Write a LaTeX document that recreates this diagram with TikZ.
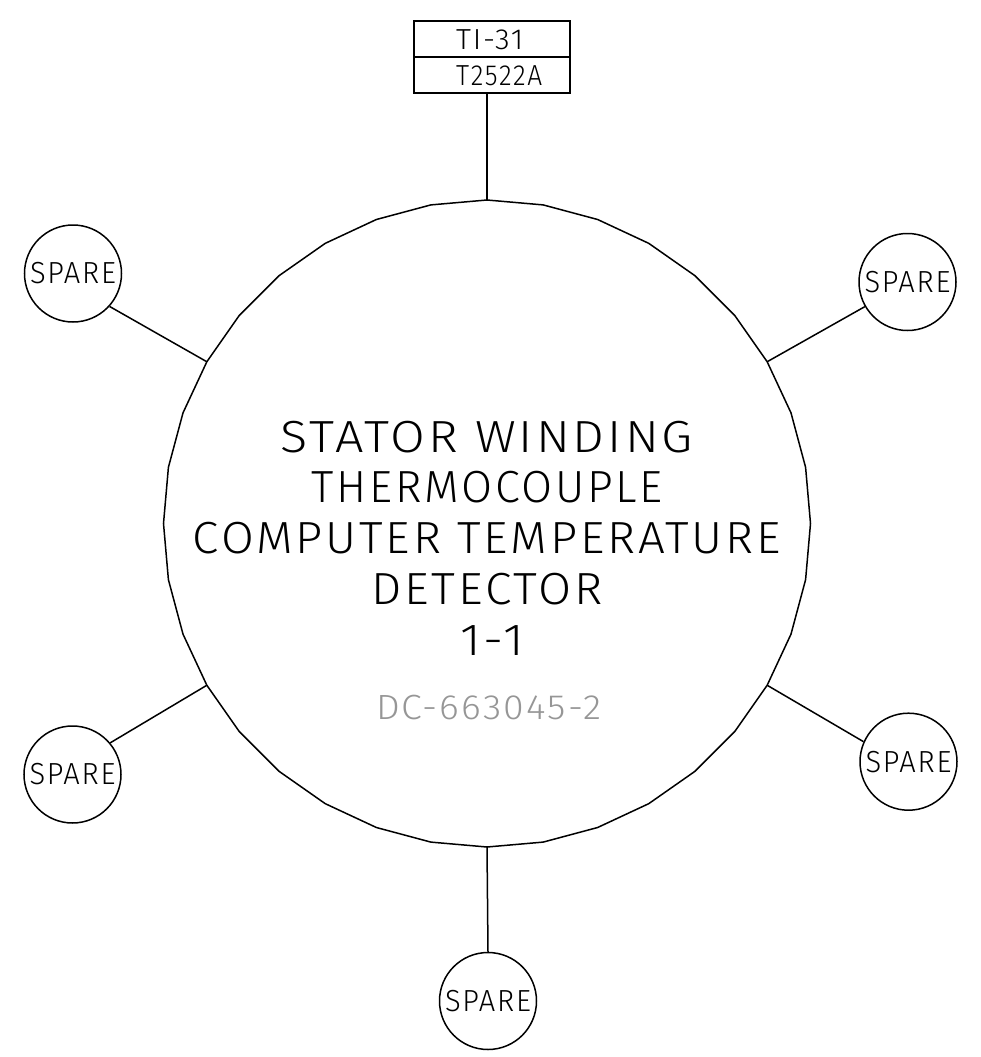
\documentclass[tikz,border=0pt]{standalone}
\usepackage{fontspec}
\usepackage{graphicx}
\newfontfamily\cadfont{Fira Sans Light}[LetterSpace=6]
\newcommand\fitto[2]{\resizebox{#1}{\height}{#2}}
\definecolor{dcgray}{RGB}{150,150,150}
\tikzset{
  lw/.style={line width=1.5pt},
  spare/.style={draw, circle, lw, minimum size=97pt, inner sep=0pt,
    font=\cadfont\fontsize{30.5}{30.5}\selectfont},
  titleline/.style={anchor=base, inner sep=0pt, font=\cadfont\fontsize{45}{45}\selectfont},
  dcline/.style={anchor=base, inner sep=0pt, text=dcgray, font=\cadfont\fontsize{35}{35}\selectfont},
  tagbox/.style={draw, lw, rectangle, minimum width=156pt, minimum height=36pt, inner sep=0pt},
  tagtext/.style={anchor=base west, inner sep=0pt, font=\cadfont\fontsize{29}{29}\selectfont},
}
\begin{document}
\begin{tikzpicture}[x=1pt, y=-1pt]
\useasboundingbox (0,0) rectangle (980,1057);
% big polygonal circle
\draw[lw] ({487+323.5},523.5) \foreach \a in {10,20,...,350}{ -- ({487+323.5*cos(\a)},{523.5-323.5*sin(\a)})} -- cycle;
\foreach \a in {30,90,150,210,270,330}
  \coordinate (v\a) at ({487+323.5*cos(\a)},{523.5-323.5*sin(\a)});
% tag boxes
\node[tagbox] (tag1) at (492,39) {};
\node[tagbox] (tag2) at (492,75) {};
\node[tagtext] (tagt1) at (456,49) {\fitto{67pt}{TI-31}};
\node[tagtext] (tagt2) at (456,85) {\fitto{86pt}{T2522A}};
\draw[lw] (v90 |- tag2.south) -- (v90);
% title
\node[titleline] (l1) at (487,452.7) {\fitto{412pt}{STATOR WINDING}};
\node[titleline] (l2) at (487.5,502.7) {\fitto{351pt}{THERMOCOUPLE}};
\node[titleline] (l3) at (487,553.3) {\fitto{588pt}{COMPUTER TEMPERATURE}};
\node[titleline] (l4) at (487,604) {\fitto{232pt}{DETECTOR}};
\node[titleline] (l5) at (492,655) {\fitto{64pt}{1-1}};
\node[dcline] (dc) at (488.5,719) {\fitto{225pt}{DC-663045-2}};
% spares
\node[spare] (s1) at (73,273.5) {\fitto{86pt}{SPARE}};
\node[spare] (s2) at (907.5,282) {\fitto{86pt}{SPARE}};
\node[spare] (s3) at (72.5,774.5) {\fitto{86pt}{SPARE}};
\node[spare] (s4) at (908.5,761.7) {\fitto{86pt}{SPARE}};
\node[spare] (s5) at (488,1001) {\fitto{86pt}{SPARE}};
\draw[lw] (s1.-42) -- (v150);
\draw[lw] (s2.210) -- (v30);
\draw[lw] (s3.40) -- (v210);
\draw[lw] (s4.156) -- (v330);
\draw[lw] (s5.north) -- (v270);
\end{tikzpicture}
\end{document}
